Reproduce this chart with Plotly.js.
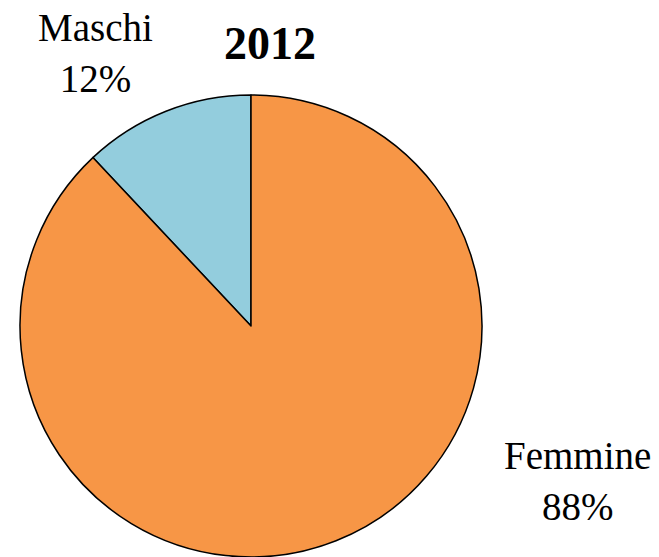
<!DOCTYPE html>
<html>
<head>
<meta charset="utf-8">
<script src="https://cdn.plot.ly/plotly-3.0.1.min.js"></script>
<style>html,body{margin:0;padding:0;background:#fff;}#chart{width:659px;height:557px;}</style>
</head>
<body>
<div id="chart"></div>
<script>
const categories = ["Maschi", "Femmine"];
const values = [12, 88];
const labelsText = ["Maschi<br>12%", "Femmine<br>88%"];
const colors = ["#93CDDD", "#F79646"];
const titleText = "2012";

const W = 659, H = 557;
const total = values.reduce((a, b) => a + b, 0);
const trace = {
  type: "pie",
  labels: categories,
  values: values,
  sort: false,
  direction: "clockwise",
  rotation: -360 * values[0] / total,
  textinfo: "none",
  hoverinfo: "label+percent",
  marker: { colors: colors, line: { color: "#000000", width: 1.5 } },
  domain: { x: [20 / W, 482 / W], y: [0, (H - 95) / H] },
  showlegend: false
};

const font = "Liberation Serif, Times New Roman, serif";
const layout = {
  width: W, height: H,
  margin: { l: 0, r: 0, t: 0, b: 0 },
  paper_bgcolor: "#ffffff",
  showlegend: false,
  annotations: [
    { text: labelsText[0], x: 95 / W, y: 1 - 53 / H, xref: "paper", yref: "paper",
      xanchor: "center", yanchor: "middle", showarrow: false, align: "center",
      font: { family: font, size: 39, color: "#000" } },
    { text: labelsText[1], x: 577 / W, y: 1 - 481 / H, xref: "paper", yref: "paper",
      xanchor: "center", yanchor: "middle", showarrow: false, align: "center",
      font: { family: font, size: 39, color: "#000" } },
    { text: "<b>" + titleText + "</b>", x: 270 / W, y: 1 - 44 / H, xref: "paper", yref: "paper",
      xanchor: "center", yanchor: "middle", showarrow: false,
      font: { family: font, size: 46, color: "#000" } }
  ]
};

Plotly.newPlot("chart", [trace], layout, { displayModeBar: false, staticPlot: true });
</script>
</body>
</html>
